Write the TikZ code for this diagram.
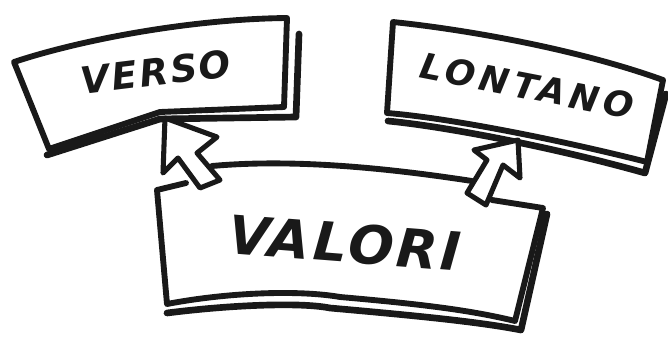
\documentclass[tikz,border=0pt]{standalone}
\usepackage{fontspec}
\newfontfamily\markerfont{DejaVu Sans Bold Oblique}[LetterSpace=6]
\newfontfamily\markerwide{DejaVu Sans Bold Oblique}[LetterSpace=13]
\usepackage{tikz}
\usetikzlibrary{calc}
\tikzset{
  edge/.style={line width=4.4pt, line join=round, line cap=round, draw=black!90},
  shade/.style={line width=5pt, line join=round, line cap=round, draw=black!90},
  pointer/.style={line width=3.8pt, line join=round, line cap=round, draw=black!90, fill=white},
  word/.style={font=\markerfont, text=black!90, inner sep=0pt}
}

\begin{document}
\begin{tikzpicture}[x=0.75pt, y=-0.75pt]
  \useasboundingbox (0,0) rectangle (668,337);

  % top left box
  \draw[shade] (47,155) -- (160,119) -- (296,117) -- (299,34);
  \draw[edge, fill=white] (14,62) .. controls (80,40) and (190,19) .. (287,18)
    -- (284,107) -- (160,112) -- (49,149) -- cycle;
  \node[word, font=\markerfont\fontsize{28}{28}\selectfont, rotate=7] (verso) at (156,72) {VERSO};

  % top right box
  \draw[shade] (388,121) .. controls (450,127) and (560,149) .. (645,173) -- (666,94);
  \draw[edge, fill=white] (393,22) .. controls (470,30) and (580,50) .. (663,80)
    -- (647,162) .. controls (560,140) and (450,118) .. (387,113) -- cycle;
  \node[word, font=\markerwide\fontsize{26.5}{26.5}\selectfont, rotate=-11] (lontano) at (527,86) {LONTANO};

  % bottom box
  \draw[shade] (167,313) .. controls (230,305) and (300,302) .. (330,308)
    .. controls (420,316) and (480,322) .. (521,330) -- (547,214);
  \draw[edge] (186,183) -- (157,190) -- (167,304)
    .. controls (230,292) and (300,290) .. (340,297)
    .. controls (420,304) and (470,310) .. (515,321) -- (543,208) -- (492,200);
  \draw[edge] (212,166) .. controls (300,158) and (400,170) .. (472,181);
  \node[word, font=\markerfont\fontsize{40}{40}\selectfont, rotate=-4.5] (valori) at (345,243) {VALORI};

  % pointers from VALORI up to the two boxes
  \draw[pointer] (165,118) -- (163,173) -- (178,158) -- (200,188) -- (220,180)
    -- (197,153) -- (217,137) -- cycle;
  \draw[pointer] (518,140) -- (520,178) -- (503,165) -- (486,205) -- (467,193)
    -- (487,160) -- (474,150) -- cycle;
\end{tikzpicture}
\end{document}
